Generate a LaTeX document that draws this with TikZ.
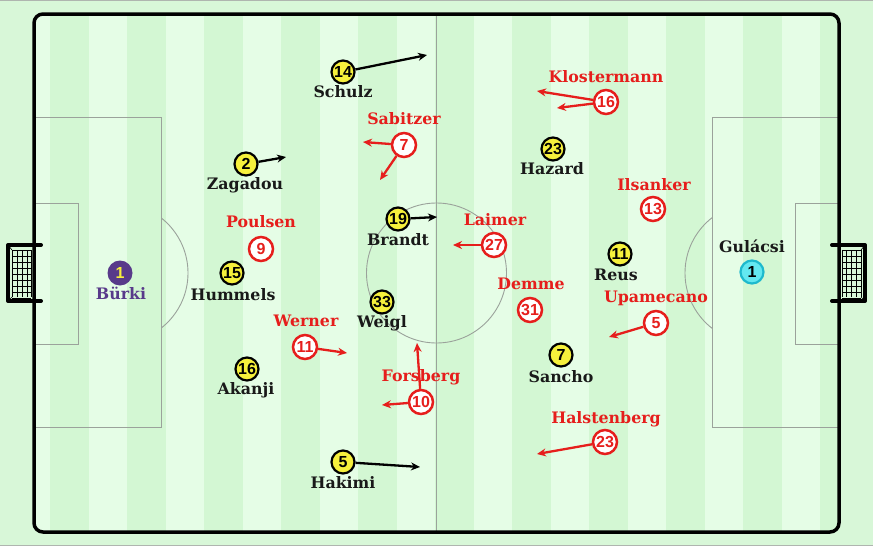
\documentclass[tikz,border=0pt]{standalone}
\usepackage{fontspec}
\setmainfont{DejaVu Serif}
\newfontfamily\numfont{Liberation Sans}
\usetikzlibrary{arrows.meta}
\definecolor{bgc}{RGB}{216,247,216}
\definecolor{stripeA}{RGB}{229,253,230}
\definecolor{stripeB}{RGB}{211,247,211}
\definecolor{linec}{RGB}{155,162,155}
\definecolor{yelc}{RGB}{246,240,60}
\definecolor{rdc}{RGB}{230,30,28}
\definecolor{purc}{RGB}{88,58,138}
\definecolor{cyc}{RGB}{100,232,240}
\definecolor{cyd}{RGB}{30,185,205}
\definecolor{txtc}{RGB}{25,25,25}
\tikzset{
  pline/.style={draw=linec, line width=0.9pt},
  numf/.style={font=\numfont\bfseries\fontsize{16}{16}\selectfont},
  yp/.style={circle, fill=yelc, draw=black, line width=2.2pt, minimum size=23pt, inner sep=0pt, text=black, numf},
  rp/.style={circle, fill=white, draw=rdc, line width=2.5pt, minimum size=24pt, inner sep=0pt, text=rdc, numf},
  nm/.style={inner sep=0pt, text height=11pt, text depth=3pt, font=\bfseries\fontsize{15.8}{15.8}\selectfont, text=txtc},
  rnm/.style={nm, text=rdc},
  barr/.style={draw=black, line width=2.3pt, -{Stealth[length=9pt,width=8pt]}},
  rarr/.style={draw=rdc, line width=2.3pt, -{Stealth[length=9pt,width=8pt]}},
  goalframe/.style={draw=black, line width=4pt, line cap=round, line join=round},
  netl/.style={draw=black, line width=0.6pt}
}
\begin{document}
\begin{tikzpicture}[x=1pt,y=-1pt]
\useasboundingbox (0,0) rectangle (873,546);
\fill[bgc] (0,0) rectangle (873,546);
\draw[draw=linec!80, line width=1.2pt] (0,0.6) -- (873,0.6);
\draw[draw=linec!80, line width=1.2pt] (0,545.4) -- (873,545.4);
% pitch stripes
\begin{scope}
\clip[rounded corners=9pt] (34,14) rectangle (839,532);
\fill[stripeA] (30,10) rectangle (845,540);
\foreach \k in {0,2,...,20} {
  \fill[stripeB] ({50+38.5*\k},10) rectangle ({50+38.5*(\k+1)},540);
}
\end{scope}
% lines
\draw[pline] (436.5,14) -- (436.5,532);
\draw[pline] (436.5,273) circle[radius=70pt];
\draw[pline] (34,117) rectangle (161,427);
\draw[pline] (34,203) rectangle (78,344);
\draw[pline] (839,117) rectangle (712,427);
\draw[pline] (839,203) rectangle (795,344);
\begin{scope}
\clip (161,100) rectangle (260,440);
\draw[pline] (118,273) circle[radius=70pt];
\end{scope}
\begin{scope}
\clip (712,100) rectangle (600,440);
\draw[pline] (755,273) circle[radius=70pt];
\end{scope}
% goals
\foreach \s/\o in {1/0, -1/873} {
  \begin{scope}[xshift=\o pt, xscale=\s]
    \foreach \yy in {250,256,...,298} { \draw[netl] (12,\yy) -- (31,\yy); }
    \foreach \xx in {12,17,22,27,31} { \draw[netl] (\xx,250) -- (\xx,297); }
    \draw[netl] (8,245) -- (12,250);
    \draw[netl] (8,301) -- (12,297);
    \draw[goalframe] (41,245) -- (8,245) -- (8,301) -- (41,301);
  \end{scope}
}
\draw[line width=3.5pt, rounded corners=9pt] (34,14) rectangle (839,532);

% keepers
\node[circle, fill=purc, minimum size=25pt, inner sep=0pt, text=yelc, numf] (gk1) at (120,273) {1};
\node[nm, text=purc] (gk1n) at (121,295) {Bürki};
\node[circle, fill=cyc, draw=cyd, line width=2.2pt, minimum size=23pt, inner sep=0pt, text=black, numf] (gk2) at (752,272) {1};
\node[nm] (gk2n) at (752,248) {Gulácsi};

% yellow
\node[yp] (y14) at (343,72) {14};   \node[nm] (y14n) at (343,93) {Schulz};
\node[yp] (y2) at (246,164) {2};    \node[nm] (y2n) at (245,185) {Zagadou};
\node[yp] (y23) at (553,149) {23};  \node[nm] (y23n) at (552,170) {Hazard};
\node[yp] (y19) at (398,219) {19};  \node[nm] (y19n) at (398,241) {Brandt};
\node[yp] (y15) at (232,273) {15};  \node[nm] (y15n) at (233,296) {Hummels};
\node[yp] (y11) at (620,254) {11};  \node[nm] (y11n) at (616,276) {Reus};
\node[yp] (y33) at (382,302) {33};  \node[nm] (y33n) at (382,323) {Weigl};
\node[yp] (y16) at (247,369) {16};  \node[nm] (y16n) at (246,390) {Akanji};
\node[yp] (y7) at (561,355) {7};    \node[nm] (y7n) at (561,378) {Sancho};
\node[yp] (y5) at (343,462) {5};    \node[nm] (y5n) at (343,484) {Hakimi};

\coordinate (ay14) at (427,55);
\coordinate (ay2) at (286,157);
\coordinate (ay19) at (437,217);
\coordinate (ay5) at (420,467);
\draw[barr] (y14) -- (ay14);
\draw[barr] (y2) -- (ay2);
\draw[barr] (y19) -- (ay19);
\draw[barr] (y5) -- (ay5);

% red
\node[rp] (r16) at (606,102) {16};  \node[rnm] (r16n) at (606,78) {Klostermann};
\node[rp] (r7) at (404,145) {7};    \node[rnm] (r7n) at (404,120) {Sabitzer};
\node[rp] (r13) at (653,209) {13};  \node[rnm] (r13n) at (654,186) {Ilsanker};
\node[rp] (r9) at (261,249) {9};    \node[rnm] (r9n) at (261,223) {Poulsen};
\node[rp] (r27) at (494,245) {27};  \node[rnm] (r27n) at (495,221) {Laimer};
\node[rp] (r31) at (530,310) {31};  \node[rnm] (r31n) at (531,285) {Demme};
\node[rp] (r5) at (656,323) {5};    \node[rnm] (r5n) at (656,298) {Upamecano};
\node[rp] (r11) at (305,347) {11};  \node[rnm] (r11n) at (306,322) {Werner};
\node[rp] (r10) at (421,402) {10};  \node[rnm] (r10n) at (421,377) {Forsberg};
\node[rp] (r23) at (605,442) {23};  \node[rnm] (r23n) at (606,419) {Halstenberg};

\coordinate (ar16a) at (537,91);
\coordinate (ar16b) at (557,108);
\coordinate (ar7a) at (363,142);
\coordinate (ar7b) at (380,180);
\coordinate (ar27) at (453,245);
\coordinate (ar5) at (609,337);
\coordinate (ar11) at (347,353);
\coordinate (ar10a) at (382,405);
\coordinate (ar10b) at (417,343);
\coordinate (ar23) at (537,454);
\draw[rarr] (r16) -- (ar16a);
\draw[rarr] (r16) -- (ar16b);
\draw[rarr] (r7) -- (ar7a);
\draw[rarr] (r7) -- (ar7b);
\draw[rarr] (r27) -- (ar27);
\draw[rarr] (r5) -- (ar5);
\draw[rarr] (r11) -- (ar11);
\draw[rarr] (r10) -- (ar10a);
\draw[rarr] (r10) -- (ar10b);
\draw[rarr] (r23) -- (ar23);
\end{tikzpicture}
\end{document}
